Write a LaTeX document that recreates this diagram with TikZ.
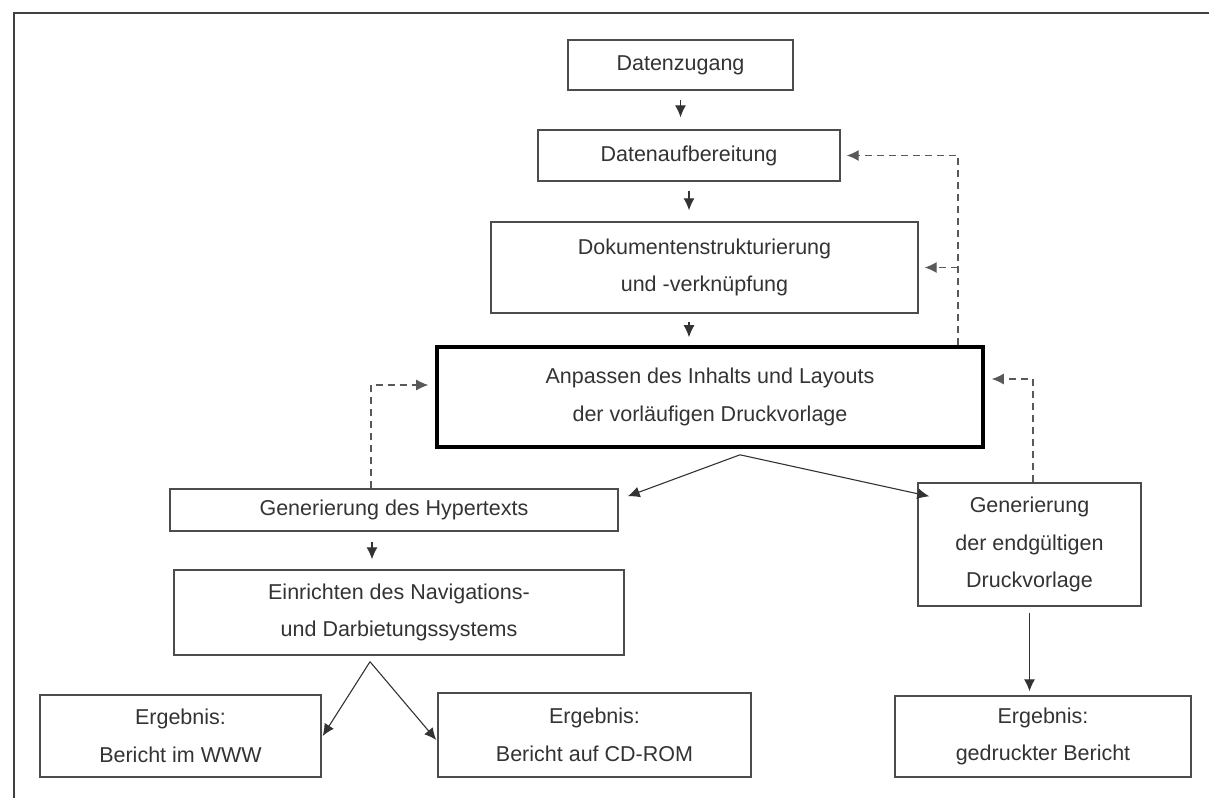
\documentclass[tikz,border=0pt]{standalone}
\usepackage{fontspec}
\setmainfont{Liberation Sans}
\usetikzlibrary{arrows.meta}
\begin{document}
\begin{tikzpicture}[x=1pt,y=-1pt,line join=miter,>={Latex[length=12pt,width=11pt]}]
            \tikzset{box style/.style={draw=black!70,line width=1.4pt,inner sep=0pt,align=center,
                text=black!80,font=\fontsize{21.5}{37.5}\selectfont}}
            \tikzset{link style/.style={->,line width=1.1pt,draw=black!80}}
            \tikzset{back style/.style={->,line width=1.1pt,draw=black!65,dash pattern=on 7pt off 5pt}}
            \useasboundingbox (0,0) rectangle (1209,798);
            \draw[line width=1.6pt,black!75] (1209,13)--(14,13)--(14,798);
            % boxes
            \node[box style,minimum width=225pt,minimum height=50pt] (zugang) at (680.5,65) {Datenzugang};
            \node[box style,minimum width=302pt,minimum height=51pt] (aufber) at (689,155.5) {Datenaufbereitung};
            \node[box style,minimum width=427pt,minimum height=91pt] (dokstr) at (704.5,267.5) {Dokumentenstrukturierung\\und -verknüpfung};
            \node[box style,draw=black,line width=3.6pt,minimum width=546pt,minimum height=100pt] (anpass) at (710,397) {Anpassen des Inhalts und Layouts\\der vorläufigen Druckvorlage};
            \node[box style,minimum width=448pt,minimum height=42pt] (hyper) at (394,510) {Generierung des Hypertexts};
            \node[box style,minimum width=450pt,minimum height=85pt] (navig) at (399,612.5) {Einrichten des Navigations-\\und Darbietungssystems};
            \node[box style,minimum width=223pt,minimum height=123pt] (druckv) at (1029.5,544.5) {Generierung\\der endgültigen\\Druckvorlage};
            \node[box style,minimum width=281pt,minimum height=82pt] (www) at (180.5,736) {Ergebnis:\\Bericht im WWW};
            \node[box style,minimum width=313pt,minimum height=84pt] (cdrom) at (594.5,735) {Ergebnis:\\Bericht auf CD-ROM};
            \node[box style,minimum width=296pt,minimum height=81pt] (gedr) at (1043,736.5) {Ergebnis:\\gedruckter Bericht};
            % main flow
            \draw[link style,shorten <=9pt,shorten >=12pt] (zugang.south)--(zugang.south |- aufber.north);
            \draw[link style,shorten <=9pt,shorten >=11pt] (aufber.south)--(aufber.south |- dokstr.north);
            \draw[link style,shorten <=8pt,shorten >=8pt] (aufber.south |- dokstr.south)--(aufber.south |- anpass.north);
            \draw[link style,shorten <=10pt,shorten >=10pt] ([xshift=-22pt]hyper.south)--([xshift=-22pt]hyper.south |- navig.north);
            \coordinate (split) at ([xshift=30pt,yshift=-6pt]anpass.south);
            \draw[link style] (split)--([xshift=9pt,yshift=-8pt]hyper.north east);
            \draw[link style] (split)--([xshift=12pt,yshift=-14pt]druckv.north west);
            \coordinate (fork) at ([xshift=-29pt,yshift=-6pt]navig.south);
            \draw[link style] (fork)--([xshift=1pt]www.east);
            \draw[link style] (fork)--([xshift=-1pt,yshift=-5pt]cdrom.west);
            \draw[link style,shorten <=6pt,shorten >=4pt] (druckv.south)--(druckv.south |- gedr.north);
            % feedback
            \draw[back style,shorten >=6pt] ([xshift=248pt]anpass.north)|-(aufber.east);
            \draw[back style,shorten >=6pt] ([xshift=248pt]anpass.north |- dokstr.east)--(dokstr.east);
            \draw[back style,shorten >=7pt] ([xshift=3.5pt]druckv.north)|-([yshift=18pt]anpass.east);
            \draw[back style,shorten >=7pt] ([xshift=-23pt]hyper.north)|-([yshift=12pt]anpass.west);
    \end{tikzpicture}
\end{document}
